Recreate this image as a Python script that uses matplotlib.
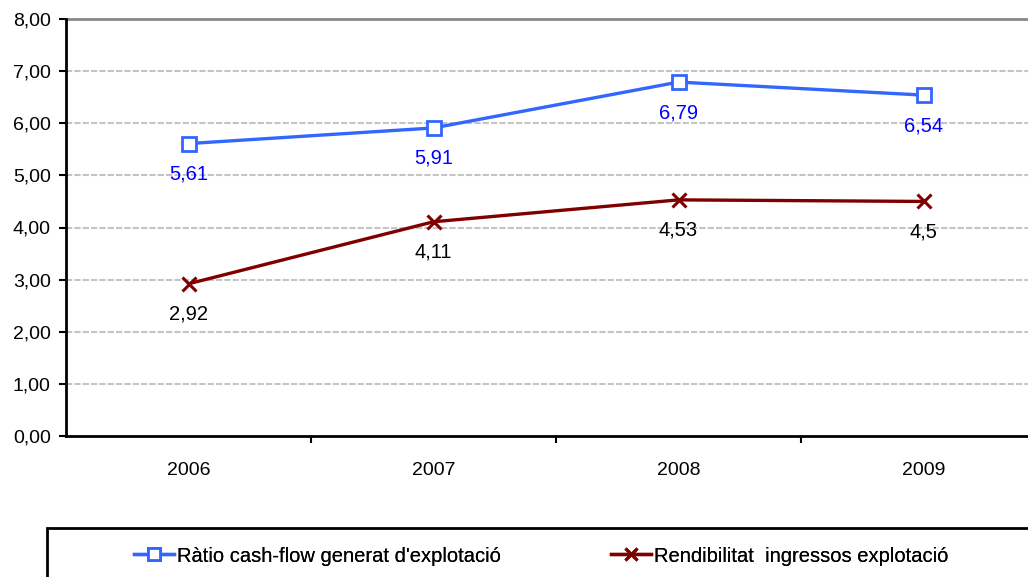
import matplotlib
matplotlib.use("Agg")
import matplotlib.pyplot as plt
from matplotlib.patches import Rectangle

years = ["2006", "2007", "2008", "2009"]
ratio_cf = [5.61, 5.91, 6.79, 6.54]
rend_ing = [2.92, 4.11, 4.53, 4.50]
ratio_labels = ["5,61", "5,91", "6,79", "6,54"]
rend_labels = ["2,92", "4,11", "4,53", "4,5"]
yticks = [0, 1, 2, 3, 4, 5, 6, 7, 8]
ytick_labels = ["0,00", "1,00", "2,00", "3,00", "4,00", "5,00", "6,00", "7,00", "8,00"]
series_names = ["Ràtio cash-flow generat d'explotació", "Rendibilitat  ingressos explotació"]

plt.rcParams['font.family'] = ['Liberation Sans', 'DejaVu Sans']

W, H = 1028, 577
fig = plt.figure(figsize=(W/100, H/100), dpi=100)
ax = fig.add_axes([66/W, 1-436/H, 980/W, (436-19)/H])

x = list(range(len(years)))
blue = '#3366FF'
red = '#800000'
l1, = ax.plot(x, ratio_cf, color=blue, lw=2.4, marker='s', ms=10.5, mfc='white', mec=blue, mew=2, zorder=3)
l2, = ax.plot(x, rend_ing, color=red, lw=2.4, marker='x', ms=10.5, mec=red, mew=2.2, zorder=3)

for xi, v, t in zip(x, ratio_cf, ratio_labels):
    ax.annotate(t, (xi, v), xytext=(0, -22), textcoords='offset points', ha='center', va='center',
                color='#0000FF', fontsize=14.5)
for xi, v, t in zip(x, rend_ing, rend_labels):
    ax.annotate(t, (xi, v), xytext=(0, -22), textcoords='offset points', ha='center', va='center',
                color='black', fontsize=14.5)

ax.set_xlim(-0.5, 3.5)
ax.set_ylim(0, 8)
ax.set_yticks(yticks)
ax.set_yticklabels(ytick_labels, fontsize=14)
ax.set_xticks(x)
ax.set_xticklabels(years, fontsize=14)
ax.tick_params(axis='x', length=0, pad=19)
ax.set_xticks([0.5, 1.5, 2.5], minor=True)
ax.tick_params(axis='x', which='minor', length=5, width=1.5, direction='out')
ax.tick_params(axis='y', length=5, width=1.5, direction='out', pad=6)

for yy in yticks[1:-1]:
    ax.axhline(yy, color='#C4C4C4', lw=1.5, ls=(0, (3, 1)), zorder=1)
ax.axhline(8, color='#888888', lw=2, zorder=1, clip_on=False)

ax.spines['left'].set_linewidth(2)
ax.spines['bottom'].set_linewidth(2)
ax.spines['top'].set_visible(False)
ax.spines['right'].set_visible(False)

# legend frame
fig.patches.append(Rectangle((47/W, -0.1), 1.2, (1-528/H)+0.1, transform=fig.transFigure,
                             fill=False, edgecolor='black', lw=2))
for line, name, x0 in [(l1, series_names[0], 134), (l2, series_names[1], 611)]:
    leg = fig.legend([line], [name], loc='center left', bbox_to_anchor=(x0/W, 1-556/H),
                     frameon=False, handlelength=2.0, handletextpad=0.15, borderpad=0,
                     borderaxespad=0, prop={'size': 14.5})
    for h in leg.legend_handles:
        h.set_markersize(8)
    fig.add_artist(leg)

fig.savefig('out.png', dpi=100)
